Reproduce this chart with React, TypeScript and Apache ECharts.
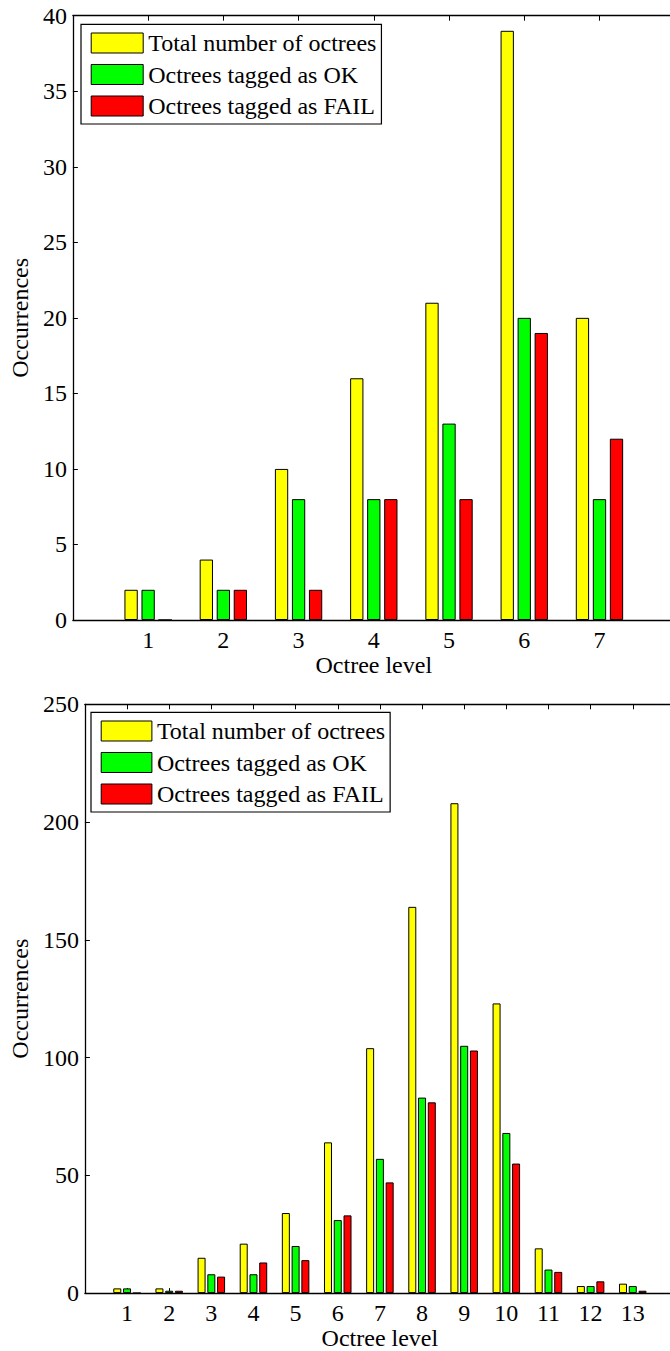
import React, { useEffect, useRef } from "react";
import * as echarts from "echarts";

// Octree level statistics, first data set (levels 1-7)
const levelsTop = [1, 2, 3, 4, 5, 6, 7];
const totalTop = [2, 4, 10, 16, 21, 39, 20];
const okTop = [2, 2, 8, 8, 13, 20, 8];
const failTop = [0, 2, 2, 8, 8, 19, 12];

// Second data set (levels 1-13)
const levelsBottom = [1, 2, 3, 4, 5, 6, 7, 8, 9, 10, 11, 12, 13];
const totalBottom = [2, 2, 15, 21, 34, 64, 104, 164, 208, 123, 19, 3, 4];
const okBottom = [2, 1, 8, 8, 20, 31, 57, 83, 105, 68, 10, 3, 3];
const failBottom = [0, 1, 7, 13, 14, 33, 47, 81, 103, 55, 9, 5, 1];

const seriesNames = [
  "Total number of octrees",
  "Octrees tagged as OK",
  "Octrees tagged as FAIL",
];
const seriesColors = ["#ffff00", "#00ff00", "#ff0000"];

const FONT = "Liberation Serif, Times New Roman, serif";
const FS = 24;

// Axis runs from 0 to n+1 with the levels on the integer ticks in between
const paddedLabels = (levels: number[]) => ["", ...levels.map(String), ""];
const padded = (vals: number[]) => [null, ...vals, null];

function xAxes(gridIndex: number, levels: number[], nameGap: number) {
  const data = paddedLabels(levels);
  const line = { show: true, lineStyle: { color: "#000", width: 1.3 } };
  const tick = { show: true, inside: true, length: 5, lineStyle: { color: "#000" } };
  return [
    {
      type: "category",
      gridIndex,
      data,
      boundaryGap: false,
      position: "bottom",
      axisLine: line,
      axisTick: tick,
      axisLabel: { color: "#000", fontFamily: FONT, fontSize: FS, margin: 8, interval: 0 },
      name: "Octree level",
      nameLocation: "middle",
      nameGap,
      nameTextStyle: { color: "#000", fontFamily: FONT, fontSize: FS },
      splitLine: { show: false },
    },
    {
      type: "category",
      gridIndex,
      data,
      boundaryGap: false,
      position: "top",
      axisLine: line,
      axisTick: tick,
      axisLabel: { show: false },
      splitLine: { show: false },
    },
  ];
}

function yAxis(gridIndex: number, max: number, interval: number, nameGap: number) {
  return {
    type: "value",
    gridIndex,
    min: 0,
    max,
    interval,
    axisLine: { show: true, lineStyle: { color: "#000", width: 1.3 } },
    axisTick: { show: true, inside: true, length: 5, lineStyle: { color: "#000" } },
    axisLabel: { color: "#000", fontFamily: FONT, fontSize: FS, margin: 6 },
    splitLine: { show: false },
    name: "Occurrences",
    nameLocation: "middle",
    nameGap,
    nameTextStyle: { color: "#000", fontFamily: FONT, fontSize: FS },
  };
}

function barSeries(
  xAxisIndex: number,
  yAxisIndex: number,
  values: number[][],
  barWidth: number,
  barGap: string
) {
  return values.map((vals, i) => ({
    type: "bar",
    name: seriesNames[i],
    xAxisIndex,
    yAxisIndex,
    data: padded(vals),
    barWidth,
    barGap,
    itemStyle: { color: seriesColors[i], borderColor: "#000", borderWidth: 1 },
  }));
}

function legend(left: number, top: number, itemWidth: number) {
  return {
    orient: "vertical",
    left,
    top,
    data: seriesNames,
    icon: "rect",
    itemWidth,
    itemHeight: 20,
    itemGap: 7.5,
    itemTextGap: 5,
    selectedMode: false,
    padding: [6.7, 5, 6, 9.7],
    backgroundColor: "#fff",
    borderColor: "#000",
    borderWidth: 1.2,
    textStyle: { color: "#000", fontFamily: FONT, fontSize: FS, lineHeight: 20 },
    itemStyle: { borderColor: "#000", borderWidth: 1 },
  };
}

export default function App() {
  const ref = useRef<HTMLDivElement>(null);

  useEffect(() => {
    document.body.style.margin = "0";
    if (!ref.current) return;
    const chart = echarts.init(ref.current, null, { renderer: "svg" });
    chart.setOption({
      animation: false,
      backgroundColor: "#fff",
      textStyle: { fontFamily: FONT },
      grid: [
        { left: 72.3, top: 15.7, width: 602.4, height: 604.3, containLabel: false },
        { left: 82.7, top: 704.3, width: 592.2, height: 593.4, containLabel: false },
      ],
      xAxis: [...xAxes(0, levelsTop, 31), ...xAxes(1, levelsBottom, 27)],
      yAxis: [yAxis(0, 40, 5, 39), yAxis(1, 250, 50, 49)],
      legend: [legend(81, 24.3, 52), legend(91, 712.3, 50.7)],
      series: [
        ...barSeries(0, 0, [totalTop, okTop, failTop], 13.3, "28%"),
        ...barSeries(2, 1, [totalBottom, okBottom, failBottom], 8, "22%"),
      ],
    });
    return () => chart.dispose();
  }, []);

  // The plot boxes run a few pixels past the right edge of the page, so the
  // chart is drawn slightly wider and clipped.
  return (
    <div style={{ width: 670, height: 1351, overflow: "hidden" }}>
      <div ref={ref} style={{ width: 690, height: 1351 }} />
    </div>
  );
}
